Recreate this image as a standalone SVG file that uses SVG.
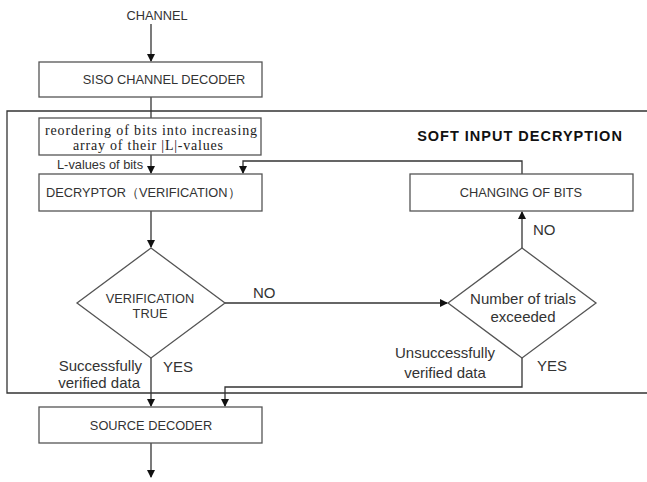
<svg xmlns="http://www.w3.org/2000/svg" width="647" height="482" viewBox="0 0 647 482">
<style>
.box{fill:#fff;stroke:#555;stroke-width:1.3}
.ln{fill:none;stroke:#333;stroke-width:1.3}
.t{font-family:"Liberation Sans",Arial,sans-serif;font-size:12.8px;fill:#333}
.l{font-family:"Liberation Sans",Arial,sans-serif;font-size:15px;fill:#333}
.s{font-family:"Liberation Serif","Times New Roman",serif;font-size:14px;fill:#222}
.b{font-family:"Liberation Sans",Arial,sans-serif;font-size:14.5px;font-weight:bold;fill:#111;letter-spacing:1px}
</style>
<defs>
<marker id="ah" markerWidth="8" markerHeight="10" refX="7" refY="4" orient="auto" markerUnits="userSpaceOnUse">
<path d="M0,0 L8,4 L0,8 Z" fill="#111"/>
</marker>
</defs>
<rect width="647" height="482" fill="#fff"/>
<g id="connectors">
<path class="ln" d="M647,111 H7 V393 H647"/>
<line class="ln" x1="151" y1="24" x2="151" y2="61" marker-end="url(#ah)"/>
<line class="ln" x1="151" y1="97" x2="151" y2="118"/>
<line class="ln" x1="151" y1="155" x2="151" y2="173" marker-end="url(#ah)"/>
<path class="ln" d="M522,174 V161 H243 V173" marker-end="url(#ah)"/>
<line class="ln" x1="151" y1="211" x2="151" y2="247" marker-end="url(#ah)"/>
<line class="ln" x1="225" y1="303" x2="447" y2="303" marker-end="url(#ah)"/>
<line class="ln" x1="522" y1="248" x2="522" y2="212" marker-end="url(#ah)"/>
<line class="ln" x1="151" y1="358" x2="151" y2="406" marker-end="url(#ah)"/>
<path class="ln" d="M522,358 V387 H225 V406" marker-end="url(#ah)"/>
<line class="ln" x1="151" y1="443" x2="151" y2="477" marker-end="url(#ah)"/>
</g>
<g id="channel"><text class="t" x="157" y="20" text-anchor="middle">CHANNEL</text></g>
<g id="siso"><rect class="box" x="39" y="62" width="223" height="35"/><text class="t" x="164" y="84" text-anchor="middle">SISO CHANNEL DECODER</text></g>
<g id="sid"><text class="b" x="520" y="141" text-anchor="middle">SOFT INPUT DECRYPTION</text></g>
<g id="reorder"><rect class="box" x="39" y="118" width="222" height="37"/>
<text class="s" x="45" y="135" textLength="212">reordering of bits into increasing</text>
<text class="s" x="73" y="150" textLength="150">array of their |L|-values</text></g>
<g id="lvals"><text class="t" x="57" y="169">L-values of bits</text></g>
<g id="decryptor"><rect class="box" x="39" y="174" width="223" height="37"/><text class="t" x="46" y="197">DECRYPTOR（VERIFICATION）</text></g>
<g id="changing"><rect class="box" x="410" y="174" width="223" height="37"/><text class="t" x="521" y="197" text-anchor="middle">CHANGING OF BITS</text></g>
<g id="verif"><polygon class="box" points="151,248 225,303 151,358 77,303"/>
<text class="t" x="150" y="303" text-anchor="middle">VERIFICATION</text>
<text class="t" x="150" y="318" text-anchor="middle">TRUE</text></g>
<g id="trials"><polygon class="box" points="522,248 596,303 522,358 448,303"/>
<text class="l" x="523" y="304" text-anchor="middle">Number of trials</text>
<text class="l" x="523" y="322" text-anchor="middle">exceeded</text></g>
<g id="labels">
<text class="l" x="253" y="298">NO</text>
<text class="l" x="533" y="235">NO</text>
<text class="l" x="163" y="372">YES</text>
<text class="l" x="537" y="371">YES</text>
<text class="l" x="142" y="371" text-anchor="end">Successfully</text>
<text class="l" x="140" y="388" text-anchor="end">verified data</text>
<text class="l" x="445" y="358" text-anchor="middle">Unsuccessfully</text>
<text class="l" x="445" y="378" text-anchor="middle">verified data</text>
</g>
<g id="source"><rect class="box" x="39" y="407" width="223" height="36"/><text class="t" x="151" y="430" text-anchor="middle">SOURCE DECODER</text></g>
</svg>
